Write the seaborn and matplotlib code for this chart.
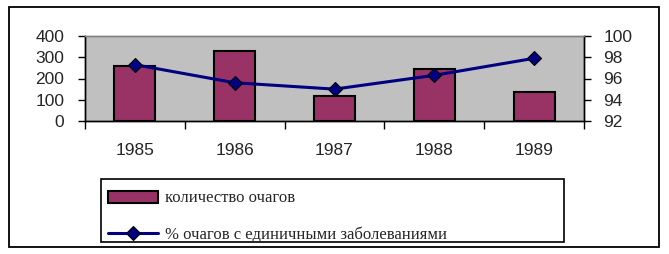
import matplotlib
matplotlib.use("Agg")
import matplotlib.pyplot as plt
import seaborn as sns
import numpy as np
import pandas as pd
from matplotlib.patches import Rectangle, Patch
from matplotlib.lines import Line2D
from matplotlib.ticker import FixedLocator, NullFormatter

years = ["1985", "1986", "1987", "1988", "1989"]
foci_count = [260, 328, 118, 246, 137]
pct_single = [97.3, 95.6, 95.0, 96.3, 97.9]
bar_label = "количество очагов"
line_label = "% очагов с единичными заболеваниями"
left_ticks = [0, 100, 200, 300, 400]
right_ticks = [92, 94, 96, 98, 100]

sns.set_style("white")
plt.rcParams["font.family"] = ["Liberation Sans", "DejaVu Sans"]

W, H = 669, 254
fig = plt.figure(figsize=(W / 100, H / 100), dpi=100)
fig.patch.set_facecolor("white")

ax = fig.add_axes([85 / W, 1 - 121 / H, (584 - 85) / W, (121 - 36) / H])
df = pd.DataFrame({"year": years, "count": foci_count})
sns.barplot(data=df, x="year", y="count", ax=ax, color="#993366",
            width=0.41, edgecolor="black", linewidth=1.5, saturation=1)
ax.set_facecolor("#C0C0C0")
ax.set_xlim(-0.5, len(years) - 0.5)
ax.set_ylim(left_ticks[0], left_ticks[-1])
ax.set_yticks(left_ticks)
ax.set_xlabel("")
ax.set_ylabel("")

ax2 = ax.twinx()
sns.lineplot(x=np.arange(len(years)), y=pct_single, ax=ax2, color="#000080",
             linewidth=2.2, marker="D", markersize=7, markerfacecolor="#000080",
             markeredgecolor="black", markeredgewidth=0.8)
ax2.set_ylim(right_ticks[0], right_ticks[-1])
ax2.set_yticks(right_ticks)
ax2.set_ylabel("")

for a in (ax, ax2):
    for s in a.spines.values():
        s.set_visible(True)
        s.set_color("black")
        s.set_linewidth(1.0)
    a.spines["top"].set_color("#808080")

ax.tick_params(axis="y", which="major", direction="out", length=5, width=1,
               pad=10, labelsize=12.5, left=True, color="black")
ax2.tick_params(axis="y", which="major", direction="out", length=5, width=1,
                pad=9, labelsize=12.5, right=True, color="black")
ax.xaxis.set_minor_locator(FixedLocator(np.arange(-0.5, len(years), 1.0)))
ax.xaxis.set_minor_formatter(NullFormatter())
ax.tick_params(axis="x", which="major", length=0, pad=16, labelsize=12.5)
ax.tick_params(axis="x", which="minor", direction="out", length=6, width=1,
               bottom=True, color="black")

# legend (entries), frame drawn separately
fs = 12
handles = [
    Patch(facecolor="#993366", edgecolor="black", linewidth=1.5),
    Line2D([0], [0], color="#000080", linewidth=2.2, marker="D", markersize=7,
           markerfacecolor="#000080", markeredgecolor="black", markeredgewidth=0.8),
]
leg = fig.legend(handles, [bar_label, line_label],
                 loc="upper left", bbox_to_anchor=(108 / W, 1 - 190.5 / H),
                 borderaxespad=0, borderpad=0, frameon=False,
                 prop={"family": ["Liberation Serif", "DejaVu Serif"], "size": fs},
                 handlelength=3.0, handletextpad=0.4, labelspacing=1.2)

fig.add_artist(Rectangle((101 / W, 1 - 242 / H), (564 - 101) / W, (242 - 179) / H,
                         transform=fig.transFigure, fill=False,
                         edgecolor="black", linewidth=1.2))
fig.add_artist(Rectangle((9 / W, 1 - 247 / H), (659 - 9) / W, (247 - 7) / H,
                         transform=fig.transFigure, fill=False,
                         edgecolor="black", linewidth=1.3))

fig.savefig("out.png", dpi=100)
